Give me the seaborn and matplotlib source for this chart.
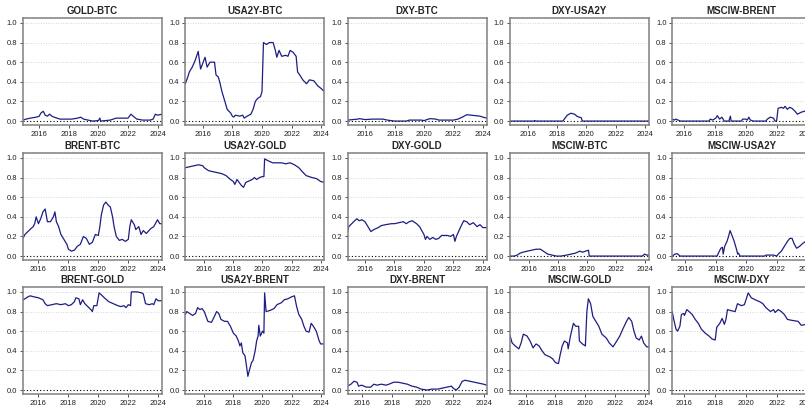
import matplotlib
matplotlib.use("Agg")
import matplotlib.pyplot as plt
import seaborn as sns
import pandas as pd

# Rolling dependence between asset pairs, one panel per pair (year, value)
gold_btc_x = [2014.9, 2015.1, 2015.4, 2015.8, 2016.0, 2016.1, 2016.27, 2016.4, 2016.55, 2016.7, 2016.85, 2017.0, 2017.2, 2017.4, 2017.8, 2018.2, 2018.6, 2018.8, 2019.0, 2019.3, 2019.6, 2020.0, 2020.1, 2020.15, 2020.8, 2021.2, 2021.6, 2022.0, 2022.2, 2022.35, 2022.6, 2023.0, 2023.5, 2023.7, 2023.85, 2024.0, 2024.3]
gold_btc_y = [0.01, 0.02, 0.03, 0.04, 0.05, 0.08, 0.10, 0.06, 0.05, 0.07, 0.05, 0.04, 0.03, 0.02, 0.02, 0.02, 0.03, 0.04, 0.02, 0.01, 0.0, 0.005, 0.03, 0.0, 0.01, 0.03, 0.03, 0.03, 0.07, 0.05, 0.02, 0.01, 0.01, 0.02, 0.07, 0.06, 0.07]

usa2y_btc_x = [2014.83, 2015.0, 2015.1, 2015.3, 2015.5, 2015.7, 2015.86, 2016.16, 2016.3, 2016.5, 2016.8, 2016.9, 2017.05, 2017.15, 2017.3, 2017.5, 2017.65, 2017.9, 2018.0, 2018.1, 2018.2, 2018.5, 2018.7, 2018.8, 2019.0, 2019.25, 2019.4, 2019.55, 2019.7, 2019.9, 2020.0, 2020.1, 2020.3, 2020.5, 2020.75, 2020.9, 2021.0, 2021.15, 2021.33, 2021.6, 2021.75, 2021.9, 2022.1, 2022.3, 2022.4, 2022.5, 2022.75, 2023.0, 2023.2, 2023.5, 2023.75, 2024.0, 2024.2]
usa2y_btc_y = [0.38, 0.45, 0.50, 0.55, 0.62, 0.71, 0.53, 0.65, 0.55, 0.60, 0.60, 0.47, 0.45, 0.40, 0.30, 0.20, 0.12, 0.08, 0.05, 0.04, 0.06, 0.05, 0.06, 0.03, 0.05, 0.07, 0.12, 0.20, 0.23, 0.25, 0.30, 0.80, 0.78, 0.80, 0.80, 0.72, 0.65, 0.72, 0.66, 0.67, 0.66, 0.72, 0.70, 0.66, 0.50, 0.48, 0.42, 0.38, 0.42, 0.41, 0.36, 0.33, 0.30]

dxy_btc_x = [2014.8, 2015.5, 2015.6, 2016.0, 2016.5, 2017.2, 2017.5, 2018.0, 2018.8, 2019.0, 2019.8, 2020.0, 2020.4, 2020.8, 2021.0, 2022.0, 2022.3, 2022.6, 2022.9, 2023.2, 2023.8, 2024.0, 2024.25]
dxy_btc_y = [0.01, 0.02, 0.025, 0.015, 0.02, 0.02, 0.01, 0.0, 0.0, 0.01, 0.01, 0.005, 0.025, 0.02, 0.01, 0.01, 0.02, 0.04, 0.065, 0.06, 0.05, 0.04, 0.03]

dxy_usa2y_x = [2014.8, 2016.45, 2016.5, 2016.55, 2018.4, 2018.5, 2018.7, 2018.95, 2019.2, 2019.35, 2019.5, 2019.65, 2019.72, 2024.25]
dxy_usa2y_y = [0.0, 0.0, 0.005, 0.0, 0.0, 0.02, 0.06, 0.08, 0.07, 0.05, 0.04, 0.035, 0.0, 0.0]

msciw_brent_x = [2015.22, 2015.35, 2015.45, 2015.6, 2015.75, 2017.6, 2017.7, 2017.85, 2018.05, 2018.15, 2018.3, 2018.45, 2018.6, 2018.9, 2019.0, 2019.05, 2019.7, 2019.8, 2020.0, 2020.1, 2020.2, 2020.3, 2020.5, 2021.3, 2021.4, 2021.6, 2021.8, 2021.9, 2022.0, 2022.1, 2022.3, 2022.45, 2022.55, 2022.7, 2022.85, 2023.0, 2023.2, 2023.35, 2023.6, 2023.8, 2024.0, 2024.25]
msciw_brent_y = [0.02, 0.01, 0.02, 0.01, 0.0, 0.0, 0.02, 0.01, 0.03, 0.055, 0.02, 0.04, 0.0, 0.0, 0.05, 0.0, 0.0, 0.02, 0.02, 0.01, 0.04, 0.01, 0.0, 0.0, 0.02, 0.04, 0.03, 0.0, 0.0, 0.13, 0.14, 0.13, 0.15, 0.12, 0.14, 0.13, 0.10, 0.07, 0.09, 0.10, 0.10, 0.10]

brent_btc_x = [2014.97, 2015.1, 2015.3, 2015.5, 2015.65, 2015.75, 2015.85, 2016.0, 2016.15, 2016.3, 2016.45, 2016.6, 2016.8, 2017.0, 2017.1, 2017.2, 2017.35, 2017.5, 2017.7, 2017.9, 2018.0, 2018.2, 2018.4, 2018.6, 2018.8, 2019.0, 2019.2, 2019.4, 2019.6, 2019.8, 2020.0, 2020.1, 2020.2, 2020.35, 2020.5, 2020.65, 2020.8, 2020.95, 2021.05, 2021.2, 2021.4, 2021.6, 2021.8, 2022.0, 2022.1, 2022.2, 2022.4, 2022.5, 2022.7, 2022.85, 2023.0, 2023.2, 2023.5, 2023.7, 2023.95, 2024.1, 2024.25]
brent_btc_y = [0.18, 0.22, 0.25, 0.28, 0.30, 0.33, 0.40, 0.33, 0.38, 0.45, 0.48, 0.35, 0.35, 0.40, 0.45, 0.35, 0.30, 0.22, 0.17, 0.12, 0.07, 0.05, 0.06, 0.10, 0.12, 0.20, 0.18, 0.12, 0.14, 0.22, 0.21, 0.30, 0.42, 0.52, 0.55, 0.52, 0.50, 0.40, 0.30, 0.20, 0.16, 0.17, 0.15, 0.17, 0.30, 0.37, 0.32, 0.27, 0.30, 0.22, 0.26, 0.23, 0.28, 0.30, 0.37, 0.33, 0.33]

usa2y_gold_x = [2014.7, 2015.0, 2015.3, 2015.6, 2015.9, 2016.0, 2016.3, 2016.6, 2016.9, 2017.2, 2017.5, 2017.8, 2018.0, 2018.1, 2018.25, 2018.4, 2018.55, 2018.7, 2018.85, 2019.0, 2019.3, 2019.45, 2019.6, 2019.8, 2020.0, 2020.1, 2020.15, 2020.4, 2020.7, 2021.0, 2021.3, 2021.6, 2021.9, 2022.2, 2022.5, 2022.8, 2023.0, 2023.4, 2023.7, 2024.0, 2024.25]
usa2y_gold_y = [0.90, 0.91, 0.92, 0.93, 0.92, 0.90, 0.87, 0.86, 0.85, 0.84, 0.82, 0.78, 0.76, 0.73, 0.78, 0.75, 0.72, 0.70, 0.75, 0.76, 0.78, 0.80, 0.78, 0.80, 0.81, 0.81, 0.99, 0.97, 0.95, 0.95, 0.95, 0.94, 0.95, 0.93, 0.90, 0.85, 0.82, 0.80, 0.79, 0.76, 0.75]

dxy_gold_x = [2014.82, 2014.9, 2015.1, 2015.3, 2015.45, 2015.6, 2015.8, 2016.0, 2016.2, 2016.4, 2016.6, 2016.9, 2017.1, 2017.4, 2017.8, 2018.0, 2018.3, 2018.6, 2018.8, 2019.0, 2019.2, 2019.5, 2019.7, 2019.85, 2020.0, 2020.1, 2020.2, 2020.4, 2020.6, 2020.8, 2021.0, 2021.2, 2021.6, 2021.8, 2022.0, 2022.1, 2022.2, 2022.35, 2022.5, 2022.7, 2022.9, 2023.1, 2023.35, 2023.6, 2023.8, 2024.0, 2024.25]
dxy_gold_y = [0.25, 0.30, 0.33, 0.36, 0.38, 0.36, 0.37, 0.35, 0.30, 0.25, 0.27, 0.29, 0.31, 0.32, 0.33, 0.33, 0.34, 0.35, 0.33, 0.35, 0.36, 0.33, 0.30, 0.26, 0.22, 0.17, 0.20, 0.17, 0.19, 0.17, 0.18, 0.21, 0.21, 0.20, 0.22, 0.15, 0.20, 0.25, 0.30, 0.36, 0.35, 0.32, 0.34, 0.30, 0.32, 0.29, 0.29]

msciw_btc_x = [2014.7, 2015.0, 2015.2, 2015.4, 2015.6, 2015.9, 2016.2, 2016.5, 2016.8, 2017.0, 2017.3, 2017.6, 2017.9, 2018.2, 2018.6, 2018.9, 2019.2, 2019.5, 2019.7, 2019.9, 2020.1, 2020.15, 2023.8, 2023.95, 2024.1, 2024.25]
msciw_btc_y = [0.0, 0.0, 0.01, 0.03, 0.04, 0.05, 0.06, 0.07, 0.07, 0.05, 0.02, 0.01, 0.0, 0.0, 0.01, 0.02, 0.03, 0.05, 0.04, 0.05, 0.06, 0.0, 0.0, 0.02, 0.01, 0.01]

msciw_usa2y_x = [2015.17, 2015.35, 2015.5, 2015.6, 2015.7, 2018.1, 2018.25, 2018.35, 2018.45, 2018.5, 2018.6, 2018.75, 2018.85, 2018.95, 2019.1, 2019.2, 2019.35, 2019.45, 2019.5, 2019.6, 2021.2, 2021.3, 2021.8, 2022.0, 2022.1, 2022.3, 2022.5, 2022.7, 2022.85, 2023.0, 2023.15, 2023.3, 2023.5, 2023.7, 2023.9, 2024.1, 2024.25]
msciw_usa2y_y = [0.0, 0.02, 0.025, 0.01, 0.0, 0.0, 0.05, 0.08, 0.09, 0.02, 0.10, 0.15, 0.20, 0.26, 0.20, 0.16, 0.08, 0.02, 0.03, 0.0, 0.0, 0.01, 0.01, 0.0, 0.02, 0.05, 0.10, 0.15, 0.18, 0.18, 0.12, 0.08, 0.10, 0.13, 0.15, 0.15, 0.16]

brent_gold_x = [2014.97, 2015.1, 2015.3, 2015.45, 2015.7, 2016.0, 2016.3, 2016.45, 2016.6, 2016.9, 2017.2, 2017.5, 2017.8, 2018.0, 2018.2, 2018.4, 2018.5, 2018.7, 2018.8, 2018.95, 2019.1, 2019.3, 2019.5, 2019.6, 2019.7, 2019.9, 2020.05, 2020.2, 2020.4, 2020.7, 2021.0, 2021.3, 2021.5, 2021.7, 2021.85, 2022.0, 2022.15, 2022.2, 2022.6, 2022.9, 2023.0, 2023.15, 2023.4, 2023.6, 2023.7, 2023.85, 2024.0, 2024.25]
brent_gold_y = [0.92, 0.93, 0.95, 0.96, 0.95, 0.94, 0.92, 0.88, 0.86, 0.87, 0.88, 0.87, 0.88, 0.86, 0.87, 0.90, 0.94, 0.93, 0.87, 0.92, 0.88, 0.85, 0.82, 0.80, 0.86, 0.86, 0.99, 0.97, 0.94, 0.90, 0.88, 0.86, 0.85, 0.86, 0.84, 0.87, 0.86, 1.00, 1.00, 0.99, 0.98, 0.88, 0.87, 0.88, 0.87, 0.93, 0.91, 0.91]

usa2y_brent_x = [2014.7, 2014.8, 2015.0, 2015.2, 2015.4, 2015.55, 2015.7, 2015.85, 2016.0, 2016.1, 2016.25, 2016.5, 2016.7, 2016.85, 2017.0, 2017.15, 2017.4, 2017.6, 2017.8, 2018.0, 2018.2, 2018.35, 2018.45, 2018.55, 2018.65, 2018.8, 2018.9, 2019.0, 2019.1, 2019.25, 2019.35, 2019.5, 2019.6, 2019.7, 2019.75, 2019.85, 2020.0, 2020.1, 2020.15, 2020.25, 2020.5, 2020.8, 2021.0, 2021.3, 2021.5, 2021.75, 2022.0, 2022.2, 2022.35, 2022.5, 2022.7, 2022.85, 2023.0, 2023.2, 2023.35, 2023.5, 2023.7, 2023.9, 2024.0, 2024.25]
usa2y_brent_y = [0.77, 0.80, 0.78, 0.76, 0.78, 0.84, 0.82, 0.83, 0.80, 0.76, 0.70, 0.69, 0.75, 0.80, 0.78, 0.72, 0.70, 0.70, 0.65, 0.58, 0.55, 0.50, 0.45, 0.48, 0.38, 0.35, 0.25, 0.14, 0.20, 0.28, 0.30, 0.40, 0.50, 0.55, 0.66, 0.55, 0.60, 0.58, 0.99, 0.80, 0.81, 0.83, 0.87, 0.89, 0.92, 0.93, 0.95, 0.96, 0.85, 0.77, 0.72, 0.65, 0.60, 0.59, 0.68, 0.65, 0.60, 0.50, 0.47, 0.47]

dxy_brent_x = [2015.08, 2015.3, 2015.5, 2015.7, 2015.8, 2016.0, 2016.3, 2016.6, 2016.8, 2017.0, 2017.3, 2017.6, 2017.8, 2018.1, 2018.4, 2018.7, 2019.0, 2019.3, 2019.6, 2019.9, 2020.3, 2020.6, 2021.0, 2021.3, 2021.6, 2021.9, 2022.0, 2022.2, 2022.4, 2022.6, 2022.8, 2023.1, 2023.4, 2023.7, 2024.0, 2024.2]
dxy_brent_y = [0.04, 0.06, 0.09, 0.08, 0.04, 0.05, 0.03, 0.03, 0.06, 0.05, 0.06, 0.05, 0.06, 0.08, 0.08, 0.07, 0.06, 0.04, 0.03, 0.01, 0.0, 0.01, 0.01, 0.02, 0.03, 0.04, 0.02, 0.0, 0.03, 0.09, 0.10, 0.09, 0.08, 0.07, 0.06, 0.05]

msciw_gold_x = [2014.95, 2015.1, 2015.3, 2015.55, 2015.7, 2015.85, 2016.1, 2016.3, 2016.5, 2016.7, 2016.9, 2017.1, 2017.3, 2017.6, 2017.8, 2018.0, 2018.2, 2018.3, 2018.45, 2018.6, 2018.8, 2018.85, 2019.0, 2019.2, 2019.35, 2019.55, 2019.6, 2019.8, 2020.0, 2020.1, 2020.2, 2020.35, 2020.5, 2020.7, 2020.9, 2021.1, 2021.4, 2021.6, 2021.85, 2022.1, 2022.3, 2022.5, 2022.75, 2022.9, 2023.1, 2023.25, 2023.4, 2023.6, 2023.75, 2023.9, 2024.1, 2024.25]
msciw_gold_y = [0.56, 0.48, 0.45, 0.42, 0.48, 0.57, 0.55, 0.50, 0.43, 0.47, 0.45, 0.40, 0.36, 0.34, 0.32, 0.28, 0.27, 0.35, 0.45, 0.50, 0.48, 0.42, 0.55, 0.68, 0.65, 0.65, 0.50, 0.47, 0.45, 0.80, 0.93, 0.88, 0.75, 0.70, 0.65, 0.57, 0.53, 0.48, 0.44, 0.50, 0.55, 0.62, 0.70, 0.74, 0.70, 0.60, 0.53, 0.51, 0.55, 0.48, 0.44, 0.44]

msciw_dxy_x = [2015.2, 2015.3, 2015.45, 2015.55, 2015.7, 2015.8, 2015.95, 2016.0, 2016.15, 2016.3, 2016.5, 2016.7, 2016.9, 2017.1, 2017.35, 2017.6, 2017.8, 2018.0, 2018.1, 2018.3, 2018.45, 2018.6, 2018.7, 2018.8, 2019.0, 2019.3, 2019.45, 2019.7, 2019.9, 2020.15, 2020.35, 2020.6, 2020.9, 2021.1, 2021.3, 2021.6, 2021.8, 2021.9, 2022.1, 2022.3, 2022.5, 2022.7, 2023.0, 2023.4, 2023.6, 2024.0, 2024.25]
msciw_dxy_y = [0.80, 0.72, 0.62, 0.60, 0.65, 0.77, 0.78, 0.76, 0.82, 0.80, 0.77, 0.72, 0.68, 0.62, 0.58, 0.55, 0.52, 0.51, 0.64, 0.68, 0.73, 0.67, 0.72, 0.82, 0.81, 0.80, 0.88, 0.86, 0.87, 0.99, 0.94, 0.92, 0.90, 0.88, 0.84, 0.80, 0.82, 0.79, 0.82, 0.80, 0.77, 0.72, 0.71, 0.70, 0.66, 0.67, 0.66]

titles = ["GOLD-BTC", "USA2Y-BTC", "DXY-BTC", "DXY-USA2Y", "MSCIW-BRENT",
          "BRENT-BTC", "USA2Y-GOLD", "DXY-GOLD", "MSCIW-BTC", "MSCIW-USA2Y",
          "BRENT-GOLD", "USA2Y-BRENT", "DXY-BRENT", "MSCIW-GOLD", "MSCIW-DXY"]
series = [(gold_btc_x, gold_btc_y), (usa2y_btc_x, usa2y_btc_y), (dxy_btc_x, dxy_btc_y),
          (dxy_usa2y_x, dxy_usa2y_y), (msciw_brent_x, msciw_brent_y),
          (brent_btc_x, brent_btc_y), (usa2y_gold_x, usa2y_gold_y), (dxy_gold_x, dxy_gold_y),
          (msciw_btc_x, msciw_btc_y), (msciw_usa2y_x, msciw_usa2y_y),
          (brent_gold_x, brent_gold_y), (usa2y_brent_x, usa2y_brent_y), (dxy_brent_x, dxy_brent_y),
          (msciw_gold_x, msciw_gold_y), (msciw_dxy_x, msciw_dxy_y)]

x_ticks = [2016, 2018, 2020, 2022, 2024]
y_ticks = [0.0, 0.2, 0.4, 0.6, 0.8, 1.0]
y_labels = ["0.0", "0.2", "0.4", "0.6", "0.8", "1.0"]

sns.set_style("white")
plt.rcParams["font.family"] = ["Liberation Sans", "DejaVu Sans"]

W, H = 805, 405
fig = plt.figure(figsize=(W / 100, H / 100), dpi=100)

col_left = [23 + 162.3 * c for c in range(5)]
row_top = [18, 153, 287]
ax_w, ax_h = 139, 107

for i, (title, (xs, ys)) in enumerate(zip(titles, series)):
    r, c = divmod(i, 5)
    ax = fig.add_axes([col_left[c] / W, 1 - (row_top[r] + ax_h) / H, ax_w / W, ax_h / H])
    df = pd.DataFrame({"year": xs, "value": ys})
    for g in y_ticks[1:]:
        ax.axhline(g, color="#c8c8c8", ls=(0, (1, 2)), lw=0.6, zorder=0)
    ax.axhline(0, color="black", ls=(0, (1, 2)), lw=0.8, zorder=0)
    sns.lineplot(data=df, x="year", y="value", ax=ax, color="#1e1e82", lw=0.9,
                 estimator=None, sort=False)
    ax.set_xlim(min(xs), max(xs))
    ax.set_ylim(-0.04, 1.05)
    ax.set_xticks(x_ticks)
    ax.set_xticklabels([str(t) for t in x_ticks])
    ax.set_yticks(y_ticks)
    ax.set_yticklabels(y_labels)
    ax.set_xlabel("")
    ax.set_ylabel("")
    ax.tick_params(axis="both", labelsize=5.5, length=2.5, width=0.6, pad=1.5,
                   colors="#333333", labelcolor="#222222", direction="out")
    ax.tick_params(axis="both", bottom=True, left=True)
    ax.set_title(title, fontsize=7, fontweight="bold", pad=3)
    for sp in ax.spines.values():
        sp.set_color("#808080")
        sp.set_linewidth(1.1)
        sp.set_visible(True)

fig.savefig("out.png", dpi=100)
